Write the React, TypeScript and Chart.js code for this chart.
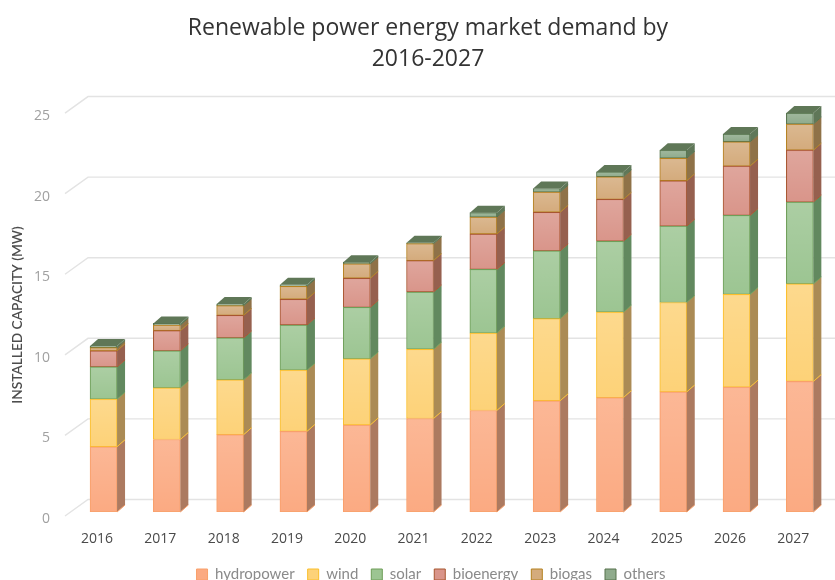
import React, { useEffect, useRef } from "react";
import { Chart, registerables } from "chart.js";

Chart.register(...registerables);

const years = ["2016", "2017", "2018", "2019", "2020", "2021", "2022", "2023", "2024", "2025", "2026", "2027"];

const hydropower = [4.05, 4.5, 4.8, 5.0, 5.4, 5.8, 6.3, 6.9, 7.1, 7.45, 7.75, 8.1];
const wind = [2.95, 3.2, 3.4, 3.8, 4.1, 4.3, 4.8, 5.1, 5.3, 5.55, 5.75, 6.05];
const solar = [2.0, 2.3, 2.6, 2.8, 3.2, 3.55, 3.95, 4.2, 4.4, 4.74, 4.9, 5.08];
const bioenergy = [1.0, 1.25, 1.4, 1.6, 1.8, 1.95, 2.2, 2.4, 2.6, 2.81, 3.06, 3.22];
const biogas = [0.2, 0.35, 0.6, 0.8, 0.9, 1.05, 1.05, 1.25, 1.4, 1.4, 1.51, 1.62];
const others = [0.1, 0.1, 0.1, 0.1, 0.1, 0.05, 0.27, 0.22, 0.3, 0.5, 0.48, 0.68];

const seriesNames = ["hydropower", "wind", "solar", "bioenergy", "biogas", "others"];
const seriesValues = [hydropower, wind, solar, bioenergy, biogas, others];
const frontColors = ["#fbaa82", "#fdd278", "#9cc592", "#d9958a", "#d4ab7c", "#8fab8c"];
const edgeColors = ["#f9a06a", "#fbbf2b", "#6f9e58", "#a8562f", "#b5811f", "#56734c"];
const sideColors = ["#ac7a60", "#ab8b55", "#62895f", "#96604f", "#8f7248", "#5f7758"];
const topColor = "#5f7757";

const depthX = 8;
const depthY = 7;
const gridBackRise = 12.5;

const extrusionPlugin = {
  id: "extrusion",
  afterLayout(chart: any) {
    // nudge the legend row sideways so it sits under the plot
    chart.legend.left += 3;
    chart.legend.right += 3;
  },
  beforeDatasetsDraw(chart: any) {
    const { ctx, scales, width } = chart;
    ctx.save();
    ctx.strokeStyle = "#e3e3e3";
    ctx.lineWidth = 1.4;
    for (const tick of scales.y.ticks) {
      const y = scales.y.getPixelForValue(tick.value);
      ctx.beginPath();
      ctx.moveTo(65, y + 4);
      ctx.lineTo(88, y - gridBackRise);
      ctx.lineTo(width, y - gridBackRise);
      ctx.stroke();
    }
    ctx.restore();
  },
  afterDatasetsDraw(chart: any) {
    const { ctx } = chart;
    ctx.save();
    seriesNames.forEach((_, d) => {
      const bars = chart.getDatasetMeta(d).data;
      bars.forEach((bar: any) => {
        const left = bar.x - bar.width / 2;
        const right = bar.x + bar.width / 2;
        const top = bar.y;
        const bottom = bar.base;

        // soft sheen over the front face, kept inside the bar outline
        const sheen = ctx.createLinearGradient(0, top, 0, bottom);
        sheen.addColorStop(0, "rgba(255,255,255,0.16)");
        sheen.addColorStop(1, "rgba(255,255,255,0)");
        ctx.fillStyle = sheen;
        ctx.fillRect(left + 1, top + 1, bar.width - 2, Math.max(0, bottom - top - 2));

        // receding side face
        ctx.fillStyle = sideColors[d];
        ctx.beginPath();
        ctx.moveTo(right, top);
        ctx.lineTo(right + depthX, top - depthY);
        ctx.lineTo(right + depthX, bottom - depthY);
        ctx.lineTo(right, bottom);
        ctx.closePath();
        ctx.fill();

        ctx.strokeStyle = edgeColors[d];
        ctx.lineWidth = 1;
        ctx.beginPath();
        ctx.moveTo(right, bottom);
        ctx.lineTo(right + depthX, bottom - depthY);
        ctx.stroke();

        // lid on the last segment of the stack
        if (d === seriesNames.length - 1) {
          ctx.fillStyle = topColor;
          ctx.beginPath();
          ctx.moveTo(left, top);
          ctx.lineTo(left + depthX, top - depthY);
          ctx.lineTo(right + depthX, top - depthY);
          ctx.lineTo(right, top);
          ctx.closePath();
          ctx.fill();
        }
      });
    });
    ctx.restore();
  },
  afterDraw(chart: any) {
    const { ctx } = chart;
    ctx.save();
    ctx.translate(18, 315);
    ctx.rotate(-Math.PI / 2);
    ctx.font = "600 13.7px Lato";
    ctx.fillStyle = "#4d4d4d";
    ctx.textAlign = "center";
    ctx.textBaseline = "middle";
    ctx.fillText("INSTALLED CAPACITY (MW)", 0, 0);
    ctx.restore();
  },
};

export default function App() {
  const canvasRef = useRef<HTMLCanvasElement | null>(null);

  useEffect(() => {
    const chart = new Chart(canvasRef.current as HTMLCanvasElement, {
      type: "bar",
      data: {
        labels: years,
        datasets: seriesNames.map((name, i) => ({
          label: name,
          data: seriesValues[i],
          backgroundColor: frontColors[i],
          borderColor: edgeColors[i],
          borderWidth: 1,
          borderSkipped: false,
          barThickness: 27,
        })),
      },
      options: {
        responsive: false,
        animation: false,
        layout: { padding: { left: 24.5, right: 3.5, top: 0, bottom: -12 } },
        plugins: {
          title: {
            display: true,
            text: ["Renewable power energy market demand by", "2016-2027"],
            color: "#333333",
            font: { family: "Open Sans", size: 23, weight: "normal", lineHeight: 1.36 },
            padding: { top: 12.5, bottom: 34 },
          },
          legend: {
            position: "bottom",
            labels: {
              boxWidth: 11,
              boxHeight: 11,
              padding: 13,
              color: "#8a8a8a",
              font: { family: "Lato", size: 15 },
            },
          },
          tooltip: { enabled: false },
        },
        scales: {
          x: {
            stacked: true,
            afterFit: (scale: any) => {
              scale.height = 42;
            },
            grid: { display: false },
            border: { display: false },
            ticks: {
              color: "#4a4a4a",
              labelOffset: -6.5,
              padding: 11,
              maxRotation: 0,
              font: { family: "Open Sans", size: 14 },
            },
          },
          y: {
            stacked: true,
            min: 0,
            max: 25,
            afterFit: (scale: any) => {
              scale.width = 47.4;
            },
            grid: { display: false },
            border: { display: false },
            ticks: {
              stepSize: 5,
              color: "#a0a0a0",
              labelOffset: 7,
              padding: 14,
              font: { family: "Open Sans", size: 14 },
            },
          },
        },
      },
      plugins: [extrusionPlugin],
    } as any);
    return () => chart.destroy();
  }, []);

  return (
    <div style={{ position: "absolute", left: 0, top: 0, width: 835, height: 580 }}>
      <canvas ref={canvasRef} width={835} height={580} style={{ display: "block" }} />
    </div>
  );
}
